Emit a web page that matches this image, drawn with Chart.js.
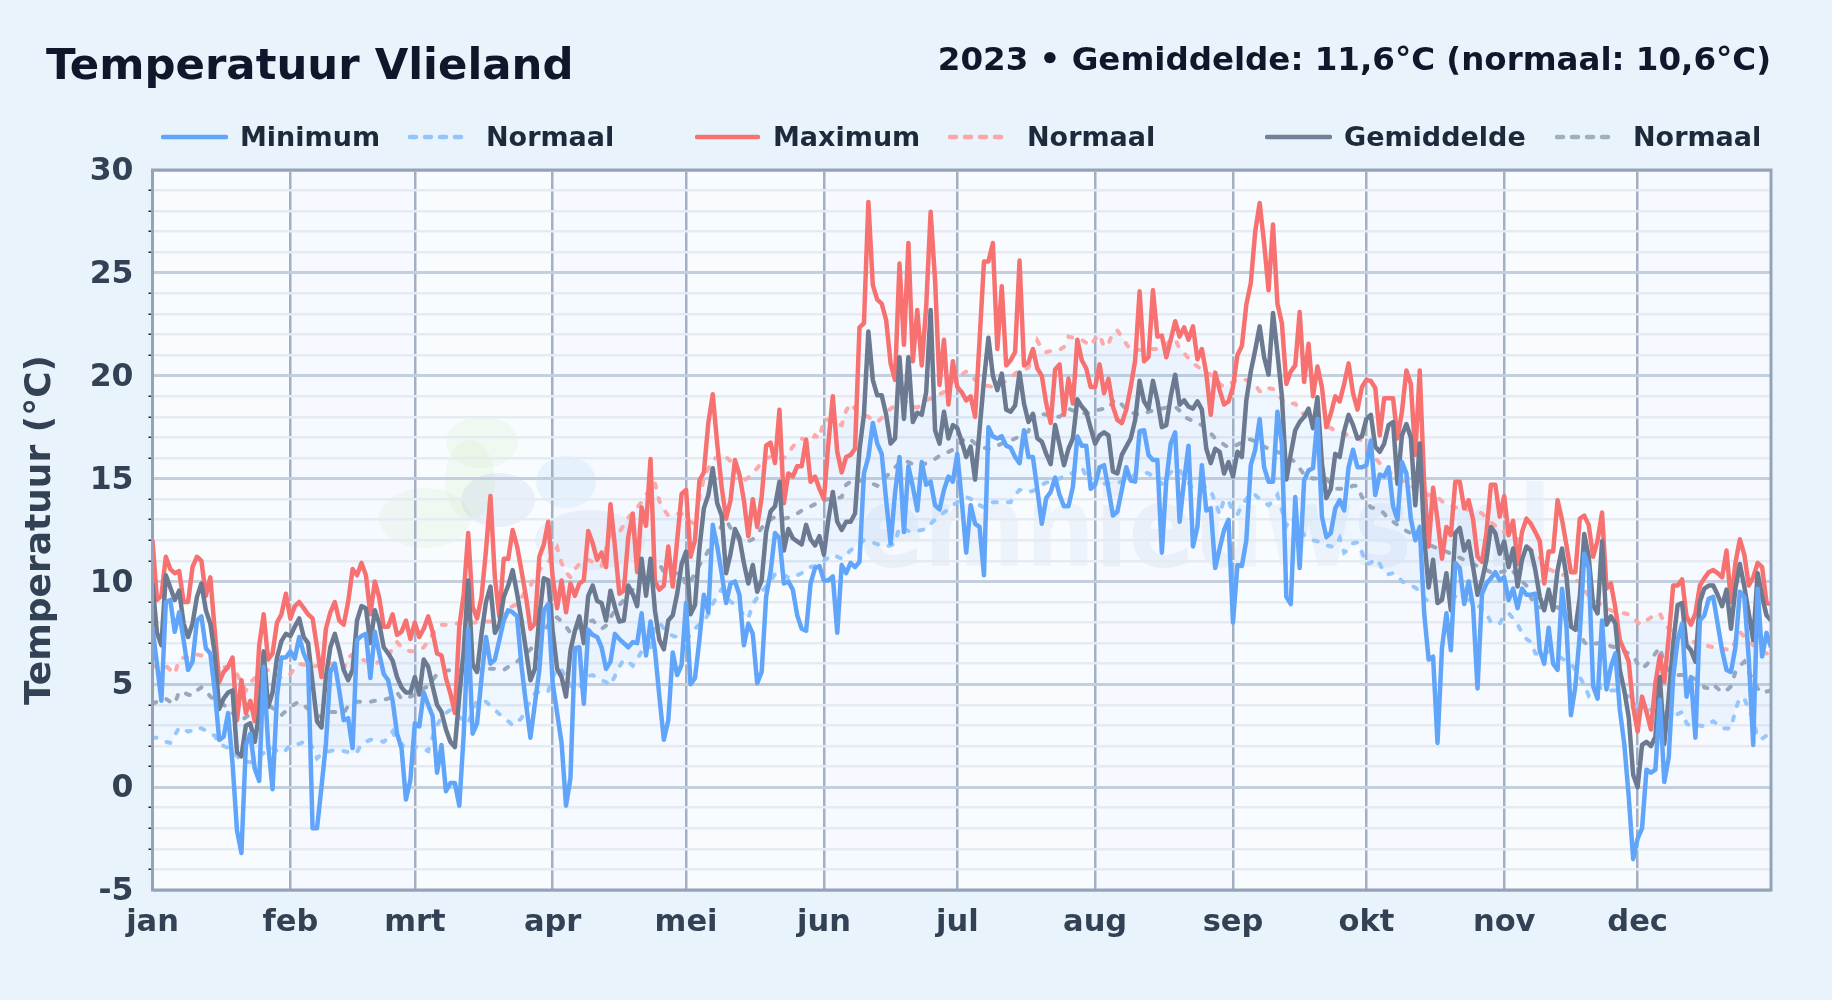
<!DOCTYPE html>
<html lang="nl">
<head>
<meta charset="utf-8">
<title>Temperatuur Vlieland</title>
<script src="https://cdn.jsdelivr.net/npm/chart.js@4"></script>
<style>
    html, body { margin: 0; padding: 0; background: #e8f3fc; }
    body { width: 1832px; height: 1000px; position: relative; overflow: hidden; font-family: "DejaVu Sans", sans-serif; font-weight: bold; }
    canvas { position: absolute; left: 0; top: 0; }
    .title { position: absolute; left: 46px; top: 35px; font-size: 43.4px; line-height: 58px; color: #0f172a; white-space: nowrap; }
    .sub { position: absolute; right: 61px; top: 38px; font-size: 32.5px; line-height: 42px; color: #0f172a; white-space: nowrap; }
    .leg { position: absolute; top: 122px; height: 30px; line-height: 30px; font-size: 27px; color: #1e293b; white-space: nowrap; }
    .swatch { position: absolute; top: 133px; }
</style>
</head>
<body>
<canvas id="chart" width="1832" height="1000"></canvas>
<div class="title">Temperatuur Vlieland</div>
<div class="sub">2023 • Gemiddelde: 11,6°C (normaal: 10,6°C)</div>
<div id="legend"></div>
<script>
const monthLabels = ['jan', 'feb', 'mrt', 'apr', 'mei', 'jun', 'jul', 'aug', 'sep', 'okt', 'nov', 'dec'];
const monthStarts = [0, 31, 59, 90, 120, 151, 181, 212, 243, 273, 304, 334];

const minTemp = [
    7.7,6.0,4.2,9.0,9.1,7.55,8.5,7.15,5.7,6.1,
    8.1,8.3,6.75,6.5,4.7,2.3,2.45,3.6,1.15,-2.1,
    -3.2,2.05,2.6,0.9,0.3,5.85,2.1,-0.1,4.4,6.3,
    6.3,6.6,6.25,7.3,6.5,6.0,-2.0,-2.0,0.0,2.1,
    5.6,6.0,4.7,3.25,3.35,1.9,7.15,7.35,7.45,5.3,
    7.55,6.5,5.5,5.2,4.2,2.6,1.9,-0.6,0.35,3.1,
    2.95,4.6,4.0,3.45,0.7,2.05,-0.2,0.2,0.2,-0.9,
    2.6,7.7,2.6,3.1,5.3,7.3,6.0,6.2,7.15,8.1,
    8.6,8.5,8.3,5.85,4.05,2.4,4.05,5.7,8.6,8.9,
    5.05,3.6,2.15,-0.9,0.45,6.75,6.8,4.05,7.65,7.4,
    7.3,6.8,5.75,6.1,7.45,7.2,7.0,6.8,7.05,7.0,
    8.45,6.4,8.05,6.65,4.4,2.3,3.25,6.55,5.45,5.95,
    8.95,5.0,5.3,7.15,9.35,8.5,12.75,11.7,10.4,8.95,
    9.9,10.0,9.35,6.9,7.95,7.45,5.05,5.6,9.25,10.45,
    12.35,12.1,9.9,10.0,9.6,8.35,7.7,7.6,9.9,10.65,
    10.75,10.05,10.05,10.25,7.5,10.8,10.4,10.9,10.7,10.95,
    15.25,16.05,17.7,16.7,16.2,13.95,11.85,14.3,16.05,12.4,
    15.6,14.6,13.45,15.8,14.7,14.85,13.7,13.5,14.45,15.1,
    14.85,16.2,13.95,11.4,13.7,12.8,12.65,10.3,17.5,17.05,
    16.95,17.05,16.6,16.5,16.05,15.75,17.35,16.05,16.05,14.45,
    12.8,14.05,14.35,15.05,14.2,13.65,13.65,14.6,17.05,16.6,
    16.6,14.5,14.7,15.55,15.65,14.5,13.2,13.4,14.45,15.55,
    14.9,14.85,17.3,17.35,16.15,15.9,15.9,11.4,14.9,16.7,
    17.25,12.9,14.9,16.6,11.7,12.65,15.65,13.45,13.55,10.65,
    11.6,12.5,13.0,8.0,10.8,10.75,12.0,15.65,16.4,17.9,
    15.55,14.85,14.85,18.25,16.7,9.25,8.9,14.1,10.65,14.9,
    15.4,15.5,17.9,13.15,12.15,12.35,13.55,13.95,13.45,15.55,
    16.4,15.55,15.55,15.65,16.85,14.2,15.2,15.1,15.55,13.65,
    13.0,15.8,15.25,13.05,12.0,12.65,8.45,6.2,6.35,2.15,
    6.75,8.45,6.65,10.9,10.65,8.9,10.0,8.75,4.8,9.4,
    9.9,10.15,10.45,10.05,10.2,9.1,9.65,8.7,9.65,9.35,
    9.35,9.4,6.65,6.0,7.75,6.0,5.7,9.65,7.8,3.5,
    4.9,7.45,11.35,10.65,4.9,4.3,8.1,4.75,5.85,6.5,
    3.75,2.1,-0.45,-3.5,-2.5,-2.0,0.85,0.7,0.85,4.25,
    0.25,1.45,5.35,7.15,7.95,4.4,5.35,2.4,8.1,8.35,
    9.15,9.25,7.95,6.65,5.7,5.6,6.8,9.5,9.25,6.25,
    2.05,9.65,6.35,7.5,6.8
];

const maxTemp = [
    12.0,9.1,9.3,11.2,10.6,10.4,10.5,9.0,9.0,10.7,
    11.2,11.0,9.3,10.2,7.6,5.1,5.6,5.85,6.3,3.25,
    5.2,3.6,4.2,3.2,6.9,8.4,6.2,6.5,8.0,8.4,
    9.4,8.2,8.8,9.0,8.7,8.4,8.2,6.8,5.35,7.7,
    8.5,9.0,8.1,7.9,9.0,10.6,10.3,10.9,10.3,8.4,
    10.0,9.2,7.8,7.8,8.4,7.4,7.55,8.1,7.2,8.0,
    7.3,7.7,8.3,7.55,6.5,6.4,5.3,4.55,3.6,7.8,
    9.4,12.35,8.75,8.2,9.25,11.5,14.15,10.2,8.3,11.1,
    11.1,12.5,11.7,10.5,9.25,7.7,7.95,11.2,11.8,12.9,
    10.2,8.7,10.05,8.5,9.9,9.3,9.9,10.05,12.45,11.85,
    11.05,11.4,10.7,13.75,11.7,9.4,9.55,12.15,13.3,10.45,
    13.6,12.7,15.95,10.0,9.6,9.8,11.7,9.75,12.0,14.25,
    14.45,11.2,12.0,14.9,15.3,17.7,19.1,16.7,14.6,13.05,
    13.95,15.9,15.2,13.95,12.2,14.0,12.65,14.1,16.6,16.75,
    15.75,18.35,13.8,15.25,15.1,15.6,15.6,16.9,14.85,15.1,
    14.5,14.0,16.7,19.0,16.3,15.3,16.05,16.15,16.45,22.35,
    22.55,28.45,24.4,23.7,23.5,22.7,20.6,19.8,25.45,21.5,
    26.45,20.7,23.2,20.5,23.35,27.97,24.65,19.55,21.75,18.6,
    20.7,19.45,19.2,18.8,19.0,18.0,21.7,25.55,25.55,26.45,
    21.3,24.35,20.5,20.75,21.15,25.6,20.5,20.65,21.3,20.35,
    20.0,18.65,17.7,20.3,20.55,18.1,19.85,18.65,21.75,20.75,
    20.35,19.45,19.45,20.55,19.15,19.85,18.5,17.85,17.7,18.35,
    19.45,20.75,24.1,20.7,20.9,24.15,21.9,21.95,20.9,21.75,
    22.65,21.9,22.35,21.75,22.4,20.8,21.3,20.1,18.1,20.15,
    19.3,18.6,18.75,19.45,21.0,21.45,23.45,24.5,27.0,28.4,
    26.45,24.15,27.35,23.5,22.55,19.6,20.2,20.5,23.1,19.7,
    21.55,19.0,20.45,19.45,17.5,18.15,19.0,18.75,19.6,20.6,
    19.15,18.35,19.45,19.8,19.75,19.4,17.1,18.9,18.9,18.9,
    16.95,18.25,20.25,19.6,16.15,20.25,14.75,11.7,14.55,13.0,
    11.1,12.65,12.25,14.85,14.85,13.55,13.95,13.0,11.2,10.95,
    12.35,14.7,14.7,13.15,14.15,12.25,12.95,10.85,12.4,13.05,
    12.8,12.4,11.95,9.9,11.45,11.45,13.95,13.0,11.75,10.45,
    10.45,13.05,13.2,12.75,11.2,12.0,13.35,9.65,9.9,8.7,
    7.15,6.65,6.1,3.9,2.7,4.4,3.65,2.8,5.05,6.4,
    5.1,7.3,9.8,9.8,10.1,8.3,7.9,8.45,9.8,10.15,
    10.45,10.55,10.4,10.2,11.5,9.0,10.9,12.05,11.3,9.8,
    10.2,10.9,10.7,8.95,8.9
];

const meanTemp = [
    9.9,7.5,6.9,10.3,9.7,9.1,9.55,7.95,7.3,7.95,
    9.25,9.9,8.6,7.95,6.5,3.8,4.3,4.6,4.7,1.7,
    1.5,3.0,3.1,2.2,3.6,6.6,3.9,4.6,6.3,7.1,
    7.45,7.35,7.8,8.2,7.3,7.0,5.05,3.2,2.9,5.35,
    6.8,7.45,6.65,5.7,5.2,5.7,8.1,8.8,8.7,7.0,
    8.6,7.95,6.8,6.5,6.15,5.35,4.85,4.6,4.6,5.35,
    4.5,6.2,5.85,4.9,4.0,3.65,2.8,2.2,1.95,4.4,
    6.65,10.05,5.95,5.6,7.45,9.0,9.75,7.5,7.9,9.25,
    9.8,10.55,9.4,8.1,6.65,5.2,5.75,8.3,10.15,10.05,
    7.6,5.75,5.35,4.4,6.65,7.6,8.3,7.0,9.3,9.8,
    9.05,8.95,8.1,9.55,8.75,8.05,8.1,9.8,9.4,8.8,
    11.1,9.3,11.1,8.6,7.15,6.7,8.1,8.35,9.4,10.85,
    11.45,8.4,8.85,11.6,13.55,14.2,15.5,13.8,13.2,10.4,
    11.35,12.55,12.1,10.9,9.9,10.8,9.5,10.05,12.4,13.4,
    13.65,14.85,11.5,12.55,12.1,11.95,11.8,12.75,12.05,11.75,
    12.2,11.3,13.0,14.35,12.9,12.5,12.9,12.9,13.3,16.4,
    18.1,22.15,19.8,19.05,19.05,18.1,16.7,16.95,20.9,17.9,
    20.9,17.75,18.2,18.1,19.2,23.2,17.35,16.7,18.25,16.95,
    17.6,17.45,16.8,16.05,16.55,14.95,17.35,19.8,21.85,20.0,
    19.3,20.1,18.35,18.25,18.55,20.15,18.65,17.75,18.15,16.95,
    16.8,16.2,15.7,17.6,16.65,15.65,16.45,16.95,18.85,18.5,
    18.25,17.45,16.7,17.1,17.25,17.1,15.35,15.25,16.15,16.55,
    16.95,17.85,19.75,18.75,18.4,19.75,18.8,17.5,17.6,19.0,
    20.05,18.6,18.8,18.5,18.4,18.75,18.35,16.45,15.75,16.45,
    16.3,15.25,15.8,15.1,16.3,16.05,18.8,20.2,21.25,22.4,
    20.9,20.05,23.05,21.1,19.0,14.95,16.2,17.35,17.75,18.0,
    18.4,17.45,18.95,15.75,14.05,14.5,16.2,16.05,17.3,18.1,
    17.6,16.95,17.05,17.9,18.1,16.55,16.3,16.7,17.6,17.75,
    14.75,17.1,17.65,17.0,13.7,16.7,12.15,9.7,11.05,8.95,
    9.1,10.4,8.6,12.35,12.6,11.5,11.95,10.7,9.35,10.05,
    11.05,12.65,12.35,11.35,11.95,10.7,11.6,9.75,11.05,11.7,
    11.5,10.55,9.25,8.6,9.6,8.6,10.55,11.6,10.25,7.8,
    7.65,9.25,12.3,11.2,8.85,8.45,11.95,7.9,8.3,7.95,
    5.7,4.7,3.4,0.6,0.0,2.05,2.2,2.0,2.45,5.35,
    2.1,4.4,7.0,8.85,8.95,6.9,6.65,6.1,9.0,9.65,
    9.8,9.8,9.35,8.8,9.6,7.7,9.65,10.85,9.75,8.45,
    7.15,10.4,9.25,8.35,8.1
];

const normalMin = [
    2.4,2.4,2.3,2.2,2.15,2.5,2.9,2.8,2.7,2.75,
    2.9,2.85,2.75,2.6,2.5,2.1,2.0,1.9,1.7,1.5,
    1.3,1.25,1.2,1.3,1.5,1.65,1.8,1.9,1.75,1.65,
    1.8,2.05,2.1,2.1,2.2,2.3,1.9,1.4,1.6,1.7,
    1.75,1.8,1.8,1.75,1.7,1.65,1.7,2.1,2.2,2.3,
    2.3,2.25,2.2,2.4,2.7,2.2,2.1,1.85,1.9,1.95,
    1.95,1.85,1.75,2.45,3.0,3.4,3.6,3.75,3.6,3.4,
    3.25,3.1,3.7,4.2,4.2,4.15,3.95,3.75,3.55,3.4,
    3.2,3.0,3.15,3.35,3.8,4.2,4.55,4.65,4.65,4.65,
    5.3,5.8,5.7,5.3,4.95,4.75,4.85,5.0,5.4,5.45,
    5.3,5.2,5.1,4.95,5.4,5.85,6.2,6.1,5.9,6.2,
    6.6,6.7,6.8,7.8,8.0,7.7,7.5,7.35,7.3,7.25,
    7.2,7.4,7.7,7.9,8.05,8.4,8.9,9.3,9.6,9.3,
    9.0,8.9,8.7,8.3,8.2,8.9,9.2,9.5,9.75,10.0,
    10.35,10.45,10.3,10.2,10.2,10.3,10.4,10.5,10.7,10.75,
    10.85,11.0,11.15,11.3,11.2,11.1,11.3,11.5,11.7,11.85,
    12.0,11.95,11.9,11.8,11.75,11.7,11.75,11.85,12.65,12.55,
    12.45,12.4,12.45,12.5,12.55,12.8,13.0,13.2,13.35,13.5,
    13.7,13.85,14.0,14.1,14.0,13.95,13.7,13.6,13.7,13.85,
    13.85,13.85,13.85,13.85,14.2,14.45,14.45,14.35,14.4,14.5,
    14.7,14.8,14.85,14.9,15.0,15.1,15.15,15.3,15.45,15.55,
    15.1,14.75,14.7,14.7,14.75,14.75,14.8,14.8,14.85,14.9,
    15.0,15.2,15.3,15.3,15.25,15.1,14.9,14.75,15.0,15.3,
    15.5,15.4,15.1,14.8,14.5,14.5,14.55,14.6,14.4,13.85,
    13.25,14.0,13.9,13.4,13.25,13.7,14.0,14.3,14.2,14.0,
    13.85,13.7,13.9,14.2,13.45,12.7,13.1,12.9,12.6,12.25,
    12.1,12.0,11.95,11.85,11.75,11.7,11.7,12.1,11.4,11.55,
    11.85,11.9,11.4,10.85,10.9,11.1,10.85,10.4,10.35,10.4,
    10.3,10.0,9.9,9.8,9.7,9.5,9.2,9.0,9.0,9.05,
    9.1,9.15,9.2,9.25,9.25,9.2,9.1,9.0,8.85,8.65,
    8.45,8.0,7.95,7.95,8.35,8.45,8.2,7.9,7.5,7.2,
    7.05,6.5,6.45,6.5,6.6,6.5,6.4,6.25,6.1,6.0,
    5.7,5.35,4.95,4.45,4.7,4.85,4.8,4.75,4.7,4.7,
    4.6,4.5,4.4,4.1,4.0,3.85,3.8,3.75,3.7,3.65,
    3.6,3.5,3.4,3.55,3.65,3.1,2.95,3.0,3.0,2.95,
    3.1,3.2,3.05,2.85,2.85,2.85,3.75,4.35,4.3,3.75,
    3.3,2.4,2.35,2.5,2.65
];

const normalMax = [
    5.85,5.9,5.9,5.9,5.7,5.5,6.2,6.3,6.3,6.4,
    6.45,6.4,6.3,6.2,6.05,5.95,5.85,5.8,5.6,5.5,
    5.05,4.7,5.1,5.3,5.45,5.6,5.7,5.6,5.45,5.3,
    5.35,5.5,5.8,6.0,5.95,5.9,5.85,5.9,5.95,6.0,
    6.0,6.0,5.85,5.75,6.3,6.45,6.35,6.2,6.15,6.05,
    6.0,6.1,6.2,6.3,6.8,7.05,6.8,6.7,6.6,6.6,
    6.7,6.8,7.1,7.45,7.7,7.9,7.9,7.9,7.95,7.95,
    7.95,8.0,8.0,8.0,8.05,8.05,8.05,8.2,8.35,8.5,
    8.7,8.8,8.9,9.2,9.6,9.8,10.2,10.55,10.8,10.95,
    11.3,11.65,10.9,10.45,10.2,10.6,10.85,10.95,11.05,10.95,
    10.85,10.75,11.6,12.3,12.45,12.4,12.75,13.1,13.35,13.6,
    13.85,14.2,14.5,14.8,13.9,13.5,13.2,13.25,13.3,13.3,
    13.1,12.9,12.8,14.1,15.0,15.5,15.9,16.05,16.2,16.05,
    15.85,15.5,15.2,14.9,15.05,15.3,15.5,15.8,16.0,16.05,
    16.05,16.0,16.0,16.25,16.55,16.8,16.95,16.85,16.8,17.1,
    16.95,17.9,17.85,17.75,17.65,17.6,18.3,18.65,18.4,18.2,
    18.1,18.0,17.85,17.75,17.95,18.2,18.4,18.55,18.65,18.7,
    18.75,18.5,18.45,18.6,18.8,18.9,19.0,19.1,19.2,19.45,
    19.75,19.9,20.05,20.2,20.0,19.8,19.6,19.55,19.5,19.45,
    19.55,19.65,19.75,19.9,20.1,20.25,20.3,20.4,20.9,21.7,
    21.3,21.15,21.2,21.25,21.25,21.4,21.9,21.85,21.8,21.75,
    21.6,21.45,21.8,22.0,21.4,21.55,22.1,22.2,21.9,21.55,
    21.25,21.25,21.25,21.3,21.3,21.3,21.3,21.4,21.55,21.7,
    21.8,21.3,21.1,20.85,20.6,20.45,20.3,20.15,20.05,19.9,
    19.6,19.45,19.55,19.7,19.8,19.85,19.8,19.7,19.55,19.25,
    19.2,19.4,19.35,19.1,18.85,18.65,18.65,18.65,18.35,18.1,
    17.95,17.8,17.7,17.65,17.55,17.45,17.35,17.3,17.2,17.1,
    17.0,16.95,16.85,16.6,16.3,16.0,15.75,15.55,15.35,15.15,
    15.05,14.9,14.8,14.65,14.5,14.4,14.3,14.2,14.15,14.1,
    13.9,13.75,13.7,13.6,13.55,13.5,13.5,13.45,13.45,13.3,
    13.1,12.9,12.7,12.5,12.4,12.35,12.2,12.05,11.95,11.75,
    11.55,11.35,11.15,10.85,10.6,10.5,10.4,10.35,10.25,10.15,
    10.05,10.0,9.6,9.3,9.1,9.0,8.85,8.7,8.6,8.5,
    8.45,8.45,8.4,8.3,8.0,7.9,8.1,8.25,8.35,8.45,
    8.0,7.7,7.55,7.4,7.3,7.2,7.1,7.05,7.0,6.95,
    6.85,6.8,6.75,6.7,6.7,6.65,7.1,7.55,7.3,7.1,
    6.9,6.75,6.6,6.5,6.5
];

const normalMean = [
    4.05,4.15,4.2,4.3,4.15,4.05,4.65,4.6,4.5,4.45,
    4.7,4.85,4.7,4.4,4.25,4.1,4.0,3.85,3.6,3.4,
    3.25,3.4,3.55,3.7,3.8,3.95,4.0,3.85,3.65,3.5,
    3.7,3.85,4.05,4.15,4.0,3.8,3.6,3.45,3.45,3.55,
    3.65,3.65,3.6,3.6,3.95,4.1,4.15,4.15,4.15,4.15,
    4.2,4.2,4.25,4.3,4.4,4.6,4.3,4.3,4.4,4.5,
    4.6,4.8,4.9,5.2,5.5,5.6,5.65,5.7,5.7,5.7,
    5.7,5.7,5.7,5.75,5.75,5.75,5.75,5.75,5.7,5.7,
    5.85,5.95,6.1,6.3,6.5,6.7,6.95,7.25,7.6,7.9,
    8.2,8.25,8.05,7.8,7.5,7.65,7.8,7.95,8.05,8.1,
    7.9,7.7,7.85,8.25,8.6,8.85,9.1,9.35,9.6,9.85,
    10.0,10.25,10.5,10.7,10.85,10.45,10.35,10.35,10.4,10.4,
    9.8,10.0,10.4,10.8,11.1,11.5,11.85,12.3,12.7,13.0,
    12.6,12.3,12.0,11.9,11.95,12.05,12.3,12.6,12.85,13.0,
    13.15,13.1,13.05,13.1,13.2,13.3,13.45,13.55,13.65,13.75,
    13.9,13.95,14.0,14.0,14.05,14.1,14.7,14.85,14.85,14.9,
    14.9,14.85,14.75,14.65,14.9,15.1,15.3,15.55,15.75,15.9,
    15.8,15.7,15.6,15.65,15.75,15.85,15.95,16.1,16.2,16.3,
    16.4,16.6,16.8,17.0,16.9,16.7,16.55,16.5,16.45,16.5,
    16.6,16.7,16.8,16.85,16.95,17.05,17.2,17.3,18.0,18.2,
    18.15,18.1,18.05,18.0,18.0,18.2,18.4,18.3,18.25,18.2,
    18.15,18.2,18.3,18.35,18.4,18.4,18.75,18.85,18.6,18.35,
    18.25,18.15,18.1,18.15,18.25,18.3,18.35,18.4,18.45,18.5,
    18.5,18.3,18.0,17.9,17.8,17.7,17.6,17.45,17.2,16.95,
    16.8,16.65,16.5,16.55,16.65,16.75,16.9,16.9,16.8,16.65,
    16.55,16.45,16.4,16.3,16.2,16.05,15.95,15.8,15.5,15.2,
    15.1,15.0,15.0,15.0,15.0,14.75,14.5,14.5,14.5,14.55,
    14.65,14.65,14.1,13.9,13.6,13.55,13.5,13.3,13.0,12.9,
    12.75,12.6,12.45,12.35,12.2,12.05,11.9,11.8,11.7,11.6,
    11.5,11.45,11.35,11.25,11.15,11.05,10.95,10.85,10.75,10.65,
    10.55,10.45,10.45,10.45,10.5,10.65,10.5,10.2,10.0,9.8,
    9.2,8.9,8.75,8.75,8.75,8.75,8.75,8.55,8.35,8.15,
    7.85,7.5,7.05,6.9,6.95,7.0,7.0,6.95,6.85,6.8,
    6.7,6.6,6.5,6.4,6.0,5.75,5.95,6.2,6.5,6.8,
    6.0,5.7,5.55,5.45,5.45,5.45,5.35,5.25,5.2,4.85,
    4.8,5.0,4.8,4.6,4.7,4.9,5.6,5.9,6.1,5.6,
    5.2,4.8,4.55,4.65,4.7
];

const yTicksLabeled = [-5, 0, 5, 10, 15, 20, 25, 30];

// legend placed by hand, the three pairs are not evenly spaced
const legendItems = [
    { label: 'Minimum', color: '#60a5fa', dash: '', x1: 161, x2: 228, tx: 240 },
    { label: 'Normaal', color: '#93c5fd', dash: '6 9', x1: 408, x2: 464, tx: 486 },
    { label: 'Maximum', color: '#f87171', dash: '', x1: 695, x2: 760, tx: 773 },
    { label: 'Normaal', color: '#fca5a5', dash: '6 9', x1: 948, x2: 1005, tx: 1027 },
    { label: 'Gemiddelde', color: '#718096', dash: '', x1: 1265, x2: 1332, tx: 1344 },
    { label: 'Normaal', color: '#a0aec0', dash: '6 9', x1: 1555, x2: 1619, tx: 1633 }
];

function buildLegend() {
    const box = document.getElementById('legend');
    legendItems.forEach(item => {
        const w = item.x2 - item.x1;
        box.insertAdjacentHTML('beforeend',
            `<svg class="swatch" style="left:${item.x1}px" width="${w}" height="8">` +
            `<line x1="2" y1="4" x2="${w - 2}" y2="4" stroke="${item.color}" stroke-width="4.5" ` +
            `stroke-linecap="round" stroke-dasharray="${item.dash}"/></svg>` +
            `<div class="leg" style="left:${item.tx}px">${item.label}</div>`);
    });
}

function toPoints(values) {
    return values.map((v, i) => ({ x: i, y: v }));
}

function mainLine(label, values, color, order) {
    return {
        label: label,
        data: toPoints(values),
        borderColor: color,
        borderWidth: 4.5,
        borderJoinStyle: 'round',
        pointRadius: 0,
        tension: 0,
        fill: false,
        order: order
    };
}

function normalLine(values, color, order) {
    return {
        label: 'Normaal',
        data: toPoints(values),
        borderColor: color,
        borderWidth: 4,
        borderDash: [4, 11],
        borderCapStyle: 'round',
        pointRadius: 0,
        tension: 0,
        fill: false,
        order: order
    };
}

// month bands and the faint logo behind the lines
const backdropPlugin = {
    id: 'backdrop',
    beforeDraw(chart) {
        const { ctx, chartArea: a, scales } = chart;
        ctx.save();
        ctx.fillStyle = '#f9fcff';
        ctx.fillRect(a.left, a.top, a.width, a.height);
        ctx.fillStyle = 'rgba(99, 102, 241, 0.018)';
        monthStarts.forEach((start, i) => {
            if (i % 2 === 0) return;
            const end = i + 1 < monthStarts.length ? monthStarts[i + 1] : 364;
            const x1 = scales.x.getPixelForValue(start);
            const x2 = scales.x.getPixelForValue(end);
            ctx.fillRect(x1, a.top, x2 - x1, a.height);
        });
        const blobs = [
            ['rgba(190, 225, 160, 0.14)', 482, 442, 36, 26],
            ['rgba(190, 225, 160, 0.14)', 425, 518, 46, 30],
            ['rgba(190, 225, 160, 0.14)', 470, 480, 25, 40],
            ['rgba(120, 160, 205, 0.12)', 498, 500, 37, 27],
            ['rgba(120, 160, 205, 0.10)', 590, 540, 55, 30],
            ['rgba(140, 200, 245, 0.16)', 566, 482, 30, 26]
        ];
        blobs.forEach(([color, x, y, rx, ry]) => {
            ctx.fillStyle = color;
            ctx.beginPath();
            ctx.ellipse(x, y, rx, ry, 0, 0, Math.PI * 2);
            ctx.fill();
        });
        ctx.fillStyle = 'rgba(110, 150, 195, 0.09)';
        ctx.font = 'bold 112px "DejaVu Sans"';
        ctx.textBaseline = 'alphabetic';
        ctx.textAlign = 'left';
        ctx.translate(858, 566);
        ctx.scale(0.87, 1);
        ctx.fillText('emnieuws.nl', 0, 0);
        ctx.restore();
    },
    afterDatasetsDraw(chart) {
        const { ctx, chartArea: a } = chart;
        ctx.save();
        ctx.strokeStyle = '#94a3b8';
        ctx.lineWidth = 3;
        ctx.strokeRect(a.left, a.top, a.width, a.height);
        ctx.restore();
    }
};

buildLegend();

new Chart(document.getElementById('chart'), {
    type: 'line',
    data: {
        datasets: [
            mainLine('Minimum', minTemp, '#60a5fa', 1),
            normalLine(normalMin, 'rgba(147, 197, 253, 0.95)', 6),
            mainLine('Maximum', maxTemp, '#f87171', 3),
            Object.assign(normalLine(normalMax, 'rgba(252, 165, 165, 0.95)', 5), {
                fill: { target: 1, above: 'rgba(96, 165, 250, 0.07)', below: 'rgba(96, 165, 250, 0.07)' }
            }),
            mainLine('Gemiddelde', meanTemp, '#6b7a90', 2),
            normalLine(normalMean, 'rgba(148, 163, 184, 0.95)', 4)
        ]
    },
    options: {
        responsive: false,
        animation: false,
        devicePixelRatio: 1,
        layout: { padding: { top: 170, right: 61, bottom: 0, left: 0 } },
        plugins: {
            legend: { display: false },
            title: { display: false },
            tooltip: { enabled: false },
            filler: { propagate: false }
        },
        scales: {
            x: {
                type: 'linear',
                min: 0,
                max: 364,
                afterBuildTicks(scale) {
                    scale.ticks = monthStarts.map(v => ({ value: v }));
                },
                afterFit(scale) {
                    scale.height = 110;
                },
                grid: {
                    color: '#a3afc2',
                    lineWidth: 2.5,
                    drawTicks: false
                },
                border: { display: false },
                ticks: {
                    autoSkip: false,
                    maxRotation: 0,
                    padding: 15,
                    color: '#334155',
                    font: { family: '"DejaVu Sans"', size: 30.5, weight: 'bold' },
                    callback: value => monthLabels[monthStarts.indexOf(value)] || ''
                }
            },
            y: {
                min: -5,
                max: 30,
                afterFit(scale) {
                    scale.width = 152.5;
                },
                title: {
                    display: true,
                    text: 'Temperatuur (°C)',
                    color: '#334155',
                    padding: { top: 19, bottom: 0 },
                    font: { family: '"DejaVu Sans"', size: 36, weight: 'bold' }
                },
                grid: {
                    color: ctx => ctx.tick.value % 5 === 0 ? '#c3cfdd' : '#e6ebf2',
                    lineWidth: ctx => ctx.tick.value % 5 === 0 ? 3 : 2.5,
                    tickColor: ctx => ctx.tick.value % 5 === 0 ? 'rgba(0,0,0,0)' : '#1e293b',
                    tickLength: 4,
                    tickWidth: 1.5
                },
                border: { display: false },
                ticks: {
                    stepSize: 1,
                    autoSkip: false,
                    padding: 15,
                    labelOffset: 2,
                    color: '#334155',
                    font: { family: '"DejaVu Sans"', size: 31.5, weight: 'bold' },
                    callback: value => yTicksLabeled.includes(value) ? String(value) : ''
                }
            }
        }
    },
    plugins: [backdropPlugin]
});
</script>
</body>
</html>
